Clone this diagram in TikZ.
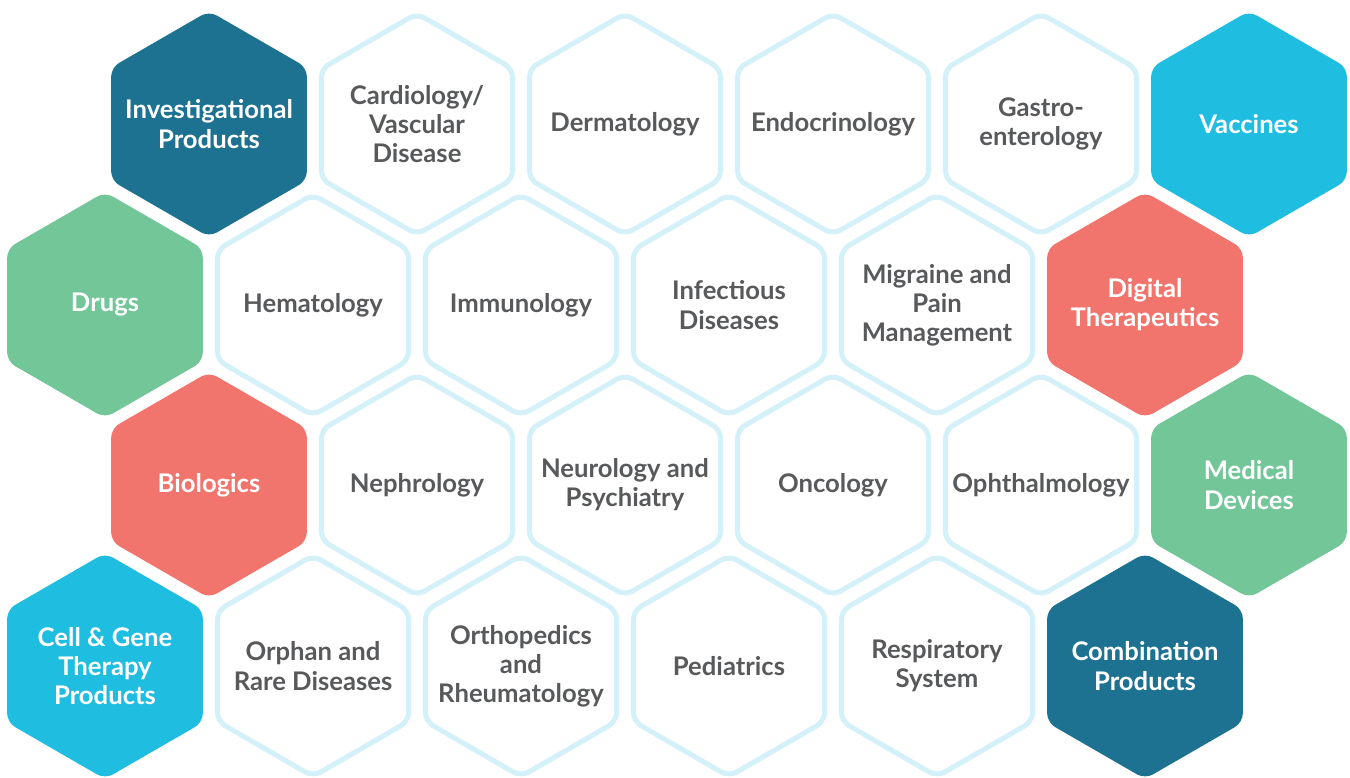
\documentclass[tikz,border=0pt]{standalone}
\usepackage{fontspec}
\setmainfont{Lato}
\usetikzlibrary{shapes.geometric}

\definecolor{deepblue}{HTML}{1D7191}
\definecolor{skyblue}{HTML}{1FBDE0}
\definecolor{mint}{HTML}{72C697}
\definecolor{coral}{HTML}{F1756C}
\definecolor{rimblue}{HTML}{D4F0F8}
\definecolor{inkgray}{HTML}{58595B}

\begin{document}
\begin{tikzpicture}[
      x=0.02cm, y=-0.02cm,
      hexa/.style={regular polygon, regular polygon sides=6,
                   shape border rotate=30, inner sep=0pt,
                   rounded corners=0.18cm},
      lbl/.style={align=center, inner sep=0pt, rounded corners=0pt,
                  font=\bfseries\fontsize{14.6}{16.6}\selectfont},
      area/.style={hexa, minimum size=4.42cm, draw=rimblue,
                   line width=0.1cm, fill=white,
                   label={[lbl, text=inkgray]center:#1}},
      cat/.style 2 args={hexa, minimum size=4.52cm, fill=#1,
                   label={[lbl, text=white]center:#2}}
    ]
    \useasboundingbox (0,0) rectangle (1350,778);

    % row 1
    \node[cat={deepblue}{Investigational\\Products}] (inv)  at (209,124) {};
    \node[area={Cardiology/\\Vascular\\Disease}]     (card) at (417,124) {};
    \node[area=Dermatology]                           (derm) at (625,124) {};
    \node[area=Endocrinology]                         (endo) at (833,124) {};
    \node[area={Gastro-\\enterology}]                 (gast) at (1041,124) {};
    \node[cat={skyblue}{Vaccines}]                    (vacc) at (1249,124) {};

    % row 2
    \node[cat={mint}{Drugs}]                          (drug) at (105,305) {};
    \node[area=Hematology]                            (hema) at (313,305) {};
    \node[area=Immunology]                            (immu) at (521,305) {};
    \node[area={Infectious\\Diseases}]                (infe) at (729,305) {};
    \node[area={Migraine and\\Pain\\Management}]      (migr) at (937,305) {};
    \node[cat={coral}{Digital\\Therapeutics}]         (digi) at (1145,305) {};

    % row 3
    \node[cat={coral}{Biologics}]                     (biol) at (209,485) {};
    \node[area=Nephrology]                            (neph) at (417,485) {};
    \node[area={Neurology and\\Psychiatry}]           (neur) at (625,485) {};
    \node[area=Oncology]                              (onco) at (833,485) {};
    \node[area=Ophthalmology]                         (opht) at (1041,485) {};
    \node[cat={mint}{Medical\\Devices}]               (medi) at (1249,485) {};

    % row 4
    \node[cat={skyblue}{Cell \& Gene\\Therapy\\Products}] (cell) at (105,666) {};
    \node[area={Orphan and\\Rare Diseases}]           (orph) at (313,666) {};
    \node[area={Orthopedics\\and\\Rheumatology}]      (orth) at (521,666) {};
    \node[area=Pediatrics]                            (pedi) at (729,666) {};
    \node[area={Respiratory\\System}]                 (resp) at (937,666) {};
    \node[cat={deepblue}{Combination\\Products}]      (comb) at (1145,666) {};
  \end{tikzpicture}
\end{document}
